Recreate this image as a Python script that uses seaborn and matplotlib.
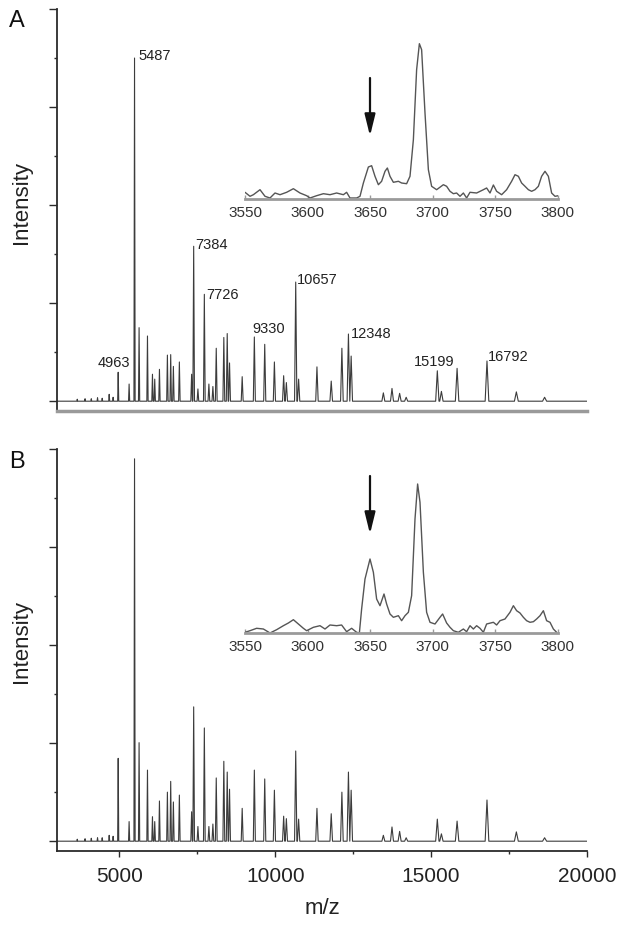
import numpy as np
import pandas as pd
import matplotlib
matplotlib.use("Agg")
import matplotlib.pyplot as plt
import seaborn as sns
from matplotlib.ticker import MultipleLocator

# ---------------- data ----------------
peak_mz = [3650, 3900, 4100, 4300, 4450, 4674, 4800, 4963, 5313, 5487, 5633, 5902,
           6062, 6135, 6286, 6541, 6647, 6733, 6925, 7318, 7384, 7520, 7726, 7872,
           8000, 8108, 8351, 8460, 8534, 8940, 9330, 9663, 9973, 10270, 10357, 10657,
           10750, 11338, 11796, 12138, 12348, 12435, 13468, 13745, 13990, 14200, 15199,
           15330, 15833, 16792, 17734, 18640]
intensity_a = [0.04, 0.05, 0.05, 0.07, 0.06, 0.14, 0.08, 0.59, 0.35, 7.0, 1.5, 1.33,
               0.55, 0.45, 0.65, 0.94, 0.95, 0.71, 0.8, 0.55, 3.16, 0.25, 2.18, 0.35,
               0.3, 1.08, 1.3, 1.38, 0.78, 0.5, 1.31, 1.16, 0.8, 0.52, 0.38, 2.43,
               0.45, 0.7, 0.41, 1.08, 1.37, 0.92, 0.17, 0.26, 0.16, 0.08, 0.62,
               0.2, 0.67, 0.82, 0.19, 0.08]
intensity_b = [0.04, 0.05, 0.06, 0.07, 0.07, 0.12, 0.1, 1.69, 0.4, 7.8, 2.01, 1.45,
               0.5, 0.4, 0.82, 1.0, 1.22, 0.8, 0.94, 0.6, 2.74, 0.3, 2.31, 0.3,
               0.35, 1.29, 1.63, 1.41, 1.06, 0.67, 1.45, 1.27, 1.04, 0.51, 0.46, 1.84,
               0.45, 0.67, 0.56, 1.0, 1.41, 1.04, 0.12, 0.29, 0.2, 0.07, 0.45,
               0.15, 0.41, 0.84, 0.19, 0.07]
labelled_peaks = [4963, 5487, 7384, 7726, 9330, 10657, 12348, 15199, 16792]

inset_a_mz = [3550, 3554, 3556.7, 3562, 3566, 3570, 3574, 3578, 3583.3, 3588.7, 3594,
              3599.3, 3602, 3607.3, 3612.7, 3618, 3623.3, 3628.7, 3631.3, 3634, 3639.3,
              3642, 3644.7, 3648.7, 3651.3, 3654, 3656.7, 3659.3, 3662, 3663.9, 3666,
              3668.7, 3672.7, 3675.3, 3679.3, 3682, 3684.7, 3687.3, 3689.5, 3691.3, 3694,
              3696.7, 3699.3, 3703.3, 3708.7, 3711.3, 3714, 3716.7, 3719.3, 3722, 3724.7,
              3727.3, 3730, 3735.3, 3740.7, 3743.3, 3746, 3748.7, 3751.3, 3755.3, 3759.3,
              3763.3, 3766, 3768.7, 3771.3, 3774, 3776.7, 3779.3, 3782, 3784.7, 3787.3,
              3790, 3792.7, 3795.3, 3798, 3800.7]
inset_a_int = [6.7, 2.7, 4.3, 9.3, 2.7, 1, 6, 4.3, 6.7, 10.3, 6, 3.3, 1, 3.3, 5.3, 4.3,
               6, 4.3, 6.7, 1, 1, 2.7, 16, 32, 33.3, 22.7, 14.3, 17.7, 27.7, 31, 22.7,
               16.7, 17.7, 16, 15.3, 22.7, 59.3, 129.3, 155.3, 149.3, 86, 29.3, 12.7,
               9.3, 14.3, 12.7, 7.7, 5.3, 6, 2.7, 6, 1, 6.7, 6, 9.3, 11, 6, 14, 7.7, 4.3,
               9.3, 17.7, 24.3, 22.7, 16, 12.7, 9.3, 7.7, 9.3, 12.7, 22.7, 27.7, 22.7,
               6, 2.7, 3.3]

inset_b_mz = [3550, 3554, 3559.3, 3564.7, 3570, 3575.3, 3580.7, 3584.7, 3588.7, 3592.7,
              3596.7, 3599.3, 3604.7, 3610, 3614, 3618, 3623.3, 3627.3, 3631.3, 3635.3,
              3639.3, 3641.5, 3643.3, 3646, 3650, 3652.7, 3655.3, 3658, 3661.2, 3663.3,
              3666, 3668.7, 3672.7, 3675.3, 3678, 3680.7, 3683.3, 3686, 3688.1, 3690,
              3692.7, 3695.3, 3698, 3702, 3706, 3708.1, 3711.3, 3714, 3716.7, 3720.7,
              3724.7, 3727.3, 3730, 3732.7, 3735.3, 3738, 3740.7, 3743.3, 3748.7, 3751.3,
              3754, 3758, 3762, 3764.7, 3767.3, 3770, 3772.7, 3775.3, 3778, 3780.7,
              3783.3, 3786, 3788.7, 3791.3, 3794, 3796.7, 3799.3]
inset_b_int = [0.7, 2.3, 4.7, 4, 0, 3.3, 7.3, 10, 13.3, 9, 4.7, 2.3, 5.7, 7.3, 4, 8,
               7.3, 8, 1.3, 4.7, 0.7, 0, 24, 54, 74, 60.7, 34, 27.3, 39, 29, 19, 15.7,
               17.3, 12.3, 17.3, 20.7, 37.3, 114, 149, 130.7, 60.7, 20.7, 10.7, 9, 15.7,
               19, 10, 5.7, 2.3, 0.7, 4, 1.3, 7.3, 4, 7.3, 4.7, 0.7, 9, 10.7, 8, 12.3,
               14, 20.7, 27.3, 22.3, 20, 15.7, 12.3, 10.7, 11.3, 14, 17.3, 22.3, 12.3,
               10.7, 4, 0.7]
inset_ticks = [3550, 3600, 3650, 3700, 3750, 3800]
main_ticks = [5000, 10000, 15000, 20000]
arrow_mz = 3650

# ---------------- style ----------------
sns.set_theme(style="ticks")
plt.rcParams["font.family"] = ["Liberation Sans", "DejaVu Sans"]
DARK = "#2b2b2b"
LINE = "#3c3c3c"
GREY = "#9a9a9a"

W, H = 624, 929
fig = plt.figure(figsize=(W / 100, H / 100), dpi=100)


def px_axes(l, t, r, b):
    return fig.add_axes([l / W, 1 - b / H, (r - l) / W, (b - t) / H])


def spectrum_frame(mz, inten):
    xs, ys = [3000], [0.0]
    for c, h in zip(mz, inten):
        w = c * 0.0035
        xs += [c - w, c, c + w]
        ys += [0.0, h, 0.0]
    xs.append(20000)
    ys.append(0.0)
    return pd.DataFrame({"mz": xs, "intensity": ys})


def style_main(ax, show_x):
    ax.set_xlim(3000, 20000)
    ax.set_ylim(-0.2, 8)
    ax.yaxis.set_major_locator(MultipleLocator(2))
    ax.yaxis.set_minor_locator(MultipleLocator(1))
    ax.tick_params(axis="y", which="major", length=5.5, width=1, color=DARK,
                   labelleft=False)
    ax.tick_params(axis="y", which="minor", length=2.5, width=1, color=DARK)
    for s in ("top", "right"):
        ax.spines[s].set_visible(False)
    ax.spines["left"].set_color(DARK)
    ax.spines["left"].set_linewidth(1.3)
    ax.set_ylabel("")
    if show_x:
        ax.set_xticks(main_ticks)
        ax.xaxis.set_minor_locator(MultipleLocator(2500))
        ax.tick_params(axis="x", which="major", length=4.5, width=1, color=DARK,
                       labelsize=15, pad=6, labelcolor="#222222")
        ax.tick_params(axis="x", which="minor", length=2.5, width=1, color=DARK)
        ax.spines["bottom"].set_color(DARK)
        ax.spines["bottom"].set_linewidth(1.3)
        ax.set_xlabel("m/z", fontsize=16, labelpad=9, color="#222222")
    else:
        ax.tick_params(axis="x", which="both", bottom=False, labelbottom=False)
        ax.spines["bottom"].set_color(GREY)
        ax.spines["bottom"].set_linewidth(2.5)
        ax.set_xlabel("")
    ax.set_facecolor("none")


def style_inset(ax, mz, inten):
    sns.lineplot(data=pd.DataFrame({"mz": mz, "intensity": inten}), x="mz",
                 y="intensity", ax=ax, color="#555555", lw=1.0, sort=False,
                 estimator=None)
    ax.set_xlim(3550, 3800)
    ax.set_ylim(0, 160)
    ax.set_xticks(inset_ticks)
    ax.set_yticks([])
    ax.tick_params(axis="x", direction="in", length=3, width=1, color=GREY,
                   labelsize=11, pad=4, labelcolor="#333333")
    for s in ("top", "right", "left"):
        ax.spines[s].set_visible(False)
    ax.spines["bottom"].set_color(GREY)
    ax.spines["bottom"].set_linewidth(2)
    ax.set_xlabel("")
    ax.set_ylabel("")
    ax.set_facecolor("none")


# ---------------- panel A ----------------
axA = px_axes(57, 10, 587, 412)
sns.lineplot(data=spectrum_frame(peak_mz, intensity_a), x="mz", y="intensity",
             ax=axA, color=LINE, lw=0.8, sort=False, estimator=None)
style_main(axA, show_x=False)

# label offsets in pixels: (dx, dy, alignment)
label_offsets = {4963: (-4, 10, "center"), 5487: (4, 3, "left"),
                 7384: (2, 2, "left"), 7726: (1.5, 0, "left"),
                 9330: (-1.5, 9, "left"), 10657: (1, 3, "left"),
                 12348: (2, 1, "left"), 15199: (-3.5, 10, "center"),
                 16792: (1, 5, "left")}
for mz in labelled_peaks:
    h = intensity_a[peak_mz.index(mz)]
    dx, dy, ha = label_offsets[mz]
    axA.annotate(str(mz), xy=(mz, h), xytext=(dx * 0.72, dy * 0.72),
                 textcoords="offset points", ha=ha, va="center", fontsize=10.5,
                 color="#222222")

insA = px_axes(245, 40, 557.5, 200)
style_inset(insA, inset_a_mz, inset_a_int)
insA.annotate("", xy=(arrow_mz, 63), xytext=(arrow_mz, 121),
              arrowprops=dict(arrowstyle="-|>,head_length=1.3,head_width=0.32",
                              mutation_scale=10, color="#111111", lw=1.6,
                              shrinkA=0, shrinkB=0))

# ---------------- panel B ----------------
axB = px_axes(57, 450, 587, 852)
sns.lineplot(data=spectrum_frame(peak_mz, intensity_b), x="mz", y="intensity",
             ax=axB, color=LINE, lw=0.8, sort=False, estimator=None)
style_main(axB, show_x=True)

insB = px_axes(245, 474, 557.5, 634)
style_inset(insB, inset_b_mz, inset_b_int)
insB.annotate("", xy=(arrow_mz, 99), xytext=(arrow_mz, 157),
              arrowprops=dict(arrowstyle="-|>,head_length=1.3,head_width=0.32",
                              mutation_scale=10, color="#111111", lw=1.6,
                              shrinkA=0, shrinkB=0))

# ---------------- texts ----------------
fig.text(9 / W, 1 - 27 / H, "A", fontsize=17, ha="left", va="baseline",
         color="#111111")
fig.text(9 / W, 1 - 468 / H, "B", fontsize=17, ha="left", va="baseline",
         color="#111111")
fig.text(22 / W, 1 - 202 / H, "Intensity", fontsize=16, rotation=90,
         ha="center", va="center", color="#222222")
fig.text(22 / W, 1 - 642 / H, "Intensity", fontsize=16, rotation=90,
         ha="center", va="center", color="#222222")

fig.savefig("out.png", dpi=100, facecolor="white")
